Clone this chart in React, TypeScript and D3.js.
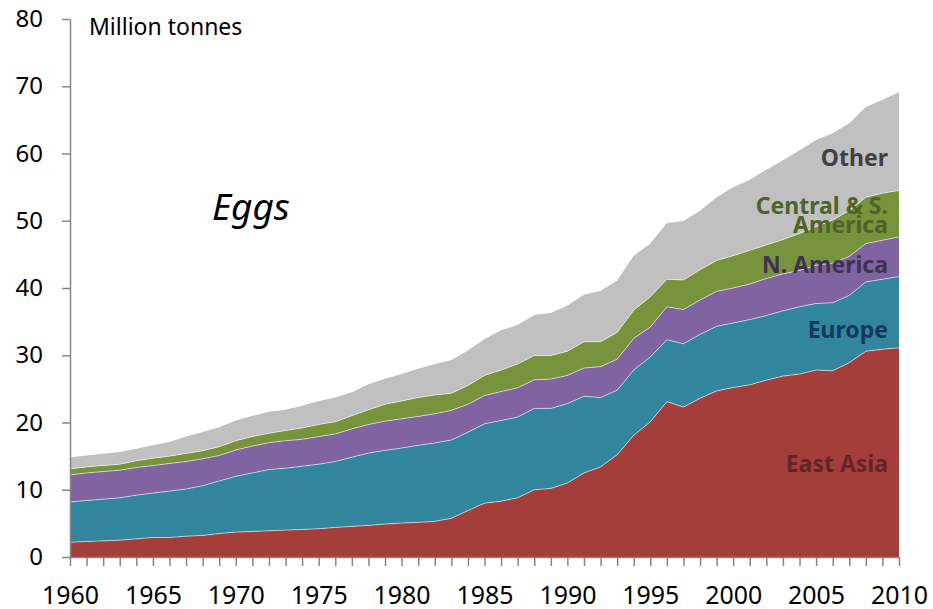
import React from 'react';
import * as d3 from 'd3';

const years = d3.range(1960, 2011);

const eastAsia = [
  2.2, 2.3, 2.4, 2.5, 2.7, 2.9, 2.9, 3.1, 3.2, 3.5,
  3.7, 3.8, 3.9, 4.0, 4.1, 4.2, 4.4, 4.55, 4.7, 4.9,
  5.05, 5.15, 5.3, 5.75, 6.9, 8.0, 8.3, 8.8, 10.0, 10.2,
  11.0, 12.5, 13.4, 15.2, 18.1, 20.1, 23.1, 22.3, 23.6, 24.7,
  25.2, 25.6, 26.3, 26.9, 27.2, 27.8, 27.7, 28.9, 30.6, 30.9,
  31.1,
];
const europe = [
  6.0, 6.1, 6.2, 6.3, 6.5, 6.6, 6.9, 7.0, 7.4, 7.8,
  8.3, 8.7, 9.1, 9.2, 9.4, 9.6, 9.8, 10.3, 10.75, 10.95,
  11.15, 11.45, 11.65, 11.65, 11.65, 11.8, 12.0, 12.0, 12.1, 11.9,
  11.8, 11.4, 10.3, 9.6, 9.7, 9.65, 9.2, 9.4, 9.5, 9.6,
  9.6, 9.7, 9.6, 9.7, 10.0, 9.9, 10.1, 10.0, 10.3, 10.4,
  10.6,
];
const nAmerica = [
  4.0, 4.1, 4.1, 4.1, 4.1, 4.1, 4.1, 4.1, 4.0, 3.8,
  3.9, 4.0, 4.0, 4.1, 4.0, 4.1, 4.1, 4.2, 4.25, 4.35,
  4.35, 4.3, 4.35, 4.4, 4.15, 4.2, 4.3, 4.35, 4.25, 4.35,
  4.2, 4.2, 4.6, 4.6, 4.7, 4.45, 4.9, 5.1, 5.1, 5.2,
  5.2, 5.3, 5.5, 5.5, 5.4, 5.7, 5.9, 5.8, 5.7, 5.8,
  5.9,
];
const csAmerica = [
  0.9, 0.9, 0.9, 0.9, 1.0, 1.1, 1.1, 1.2, 1.2, 1.3,
  1.4, 1.4, 1.4, 1.5, 1.7, 1.8, 1.8, 1.95, 2.2, 2.5,
  2.65, 2.8, 2.8, 2.55, 2.8, 3.0, 3.2, 3.55, 3.6, 3.5,
  3.6, 3.9, 3.7, 4.0, 4.2, 4.5, 4.1, 4.4, 4.5, 4.6,
  4.8, 5.0, 5.0, 5.1, 5.5, 5.7, 6.4, 6.8, 6.9, 7.0,
  6.9,
];
const other = [
  1.7, 1.7, 1.75, 1.8, 1.8, 1.9, 2.1, 2.5, 2.8, 2.9,
  3.0, 3.1, 3.2, 3.1, 3.3, 3.5, 3.6, 3.5, 3.8, 3.8,
  4.0, 4.3, 4.6, 4.95, 5.2, 5.4, 5.9, 5.8, 6.05, 6.35,
  6.8, 7.0, 7.6, 7.7, 8.1, 7.9, 8.35, 8.75, 8.8, 9.4,
  10.2, 10.5, 11.2, 11.8, 12.4, 12.9, 12.9, 13.0, 13.4, 13.9,
  14.6,
];

const seriesKeys = ['East Asia', 'Europe', 'N. America', 'Central & S. America', 'Other'];
const seriesValues = [eastAsia, europe, nAmerica, csAmerica, other];
const seriesColors = ['#a43e3b', '#31859c', '#8064a2', '#77933c', '#c0c0c0'];

const yTicks = [0, 10, 20, 30, 40, 50, 60, 70, 80];
const xLabelYears = [1960, 1965, 1970, 1975, 1980, 1985, 1990, 1995, 2000, 2005, 2010];

// in-chart series labels, right aligned near 2010
const labels = [
  { text: 'Other', color: '#404040', y: 166 },
  { text: 'Central & S.', color: '#4f6228', y: 214 },
  { text: 'America', color: '#4f6228', y: 233 },
  { text: 'N. America', color: '#3f3151', y: 273 },
  { text: 'Europe', color: '#17375e', y: 338 },
  { text: 'East Asia', color: '#632523', y: 472 },
];

export default class App extends React.Component {
  sizing = {
    width: 933,
    height: 609,
    left: 70,
    right: 34,
    top: 19,
    bottom: 52,
  };

  ref = React.createRef<SVGSVGElement>();

  setupDom(): void {
    const { width, height, left, right, top, bottom } = this.sizing;
    const svg = d3.select(this.ref.current);
    svg.selectAll('*').remove();

    const rows = years.map((yr, i) => {
      const row: any = { year: yr };
      seriesKeys.forEach((k, j) => { row[k] = seriesValues[j][i]; });
      return row;
    });

    const stacked = d3.stack<any>().keys(seriesKeys)(rows);

    const x = d3.scaleLinear().domain([1960, 2010]).range([left, width - right]);
    const y = d3.scaleLinear().domain([0, 80]).range([height - bottom, top]);

    const area = d3.area<any>()
      .x(d => x(d.data.year))
      .y0(d => y(d[0]))
      .y1(d => y(d[1]));

    const topLine = d3.line<any>()
      .x(d => x(d.data.year))
      .y(d => y(d[1]));

    svg.append('g')
      .selectAll('path')
      .data(stacked)
      .enter().append('path')
      .attr('fill', (_d, i) => seriesColors[i])
      .attr('d', area as any);

    svg.append('g')
      .selectAll('path')
      .data(stacked.slice(0, 4))
      .enter().append('path')
      .attr('fill', 'none')
      .attr('stroke', '#ffffff')
      .attr('stroke-opacity', 0.7)
      .attr('stroke-width', 0.8)
      .attr('d', topLine as any);

    const axisColor = '#868686';

    // y axis
    const yAxis = svg.append('g')
      .attr('transform', `translate(${left},0)`)
      .call(d3.axisLeft(y).tickValues(yTicks).tickSize(8).tickSizeOuter(0).tickPadding(19));
    yAxis.select('.domain').attr('stroke', axisColor).attr('stroke-width', 1.5);
    yAxis.selectAll('.tick line').attr('stroke', axisColor).attr('stroke-width', 1.5);
    yAxis.selectAll('.tick text')
      .attr('fill', '#000')
      .style('font-family', '"Noto Sans", sans-serif')
      .style('font-size', '24px');

    // x axis: minor tick every year, labels every five
    const xAxis = svg.append('g')
      .attr('transform', `translate(0,${height - bottom})`)
      .call(d3.axisBottom(x).tickValues(years).tickSize(9).tickSizeOuter(0)
        .tickFormat((d: any) => (xLabelYears.includes(d) ? String(d) : '')));
    xAxis.select('.domain').attr('stroke', axisColor).attr('stroke-width', 1.5);
    xAxis.selectAll('.tick line').attr('stroke', axisColor).attr('stroke-width', 1.5);
    xAxis.selectAll('.tick text')
      .attr('fill', '#000')
      .attr('y', 29)
      .attr('dy', '0.71em')
      .attr('textLength', (d: any) => (xLabelYears.includes(d) ? 57 : null) as any)
      .attr('lengthAdjust', 'spacingAndGlyphs')
      .style('font-family', '"Noto Sans", sans-serif')
      .style('font-size', '26px');

    svg.append('text')
      .attr('x', 89)
      .attr('y', 35)
      .style('font-family', '"Noto Sans", sans-serif')
      .style('font-size', '23px')
      .attr('fill', '#000')
      .text('Million tonnes');

    svg.append('text')
      .attr('x', 212)
      .attr('y', 220)
      .style('font-family', '"Noto Sans", sans-serif')
      .style('font-style', 'italic')
      .style('font-size', '37px')
      .attr('fill', '#000')
      .text('Eggs');

    svg.append('g')
      .selectAll('text')
      .data(labels)
      .enter().append('text')
      .attr('x', 888)
      .attr('y', d => d.y)
      .attr('text-anchor', 'end')
      .attr('fill', d => d.color)
      .style('font-family', '"Noto Sans", sans-serif')
      .style('font-weight', 'bold')
      .style('font-size', '23px')
      .text(d => d.text);
  }

  componentDidMount(): void {
    document.body.style.margin = '0';
    this.setupDom();
  }

  render(): React.ReactNode {
    return (
      <svg ref={this.ref} width={this.sizing.width} height={this.sizing.height} style={{ display: 'block', background: '#fff' }} />
    );
  }
}
